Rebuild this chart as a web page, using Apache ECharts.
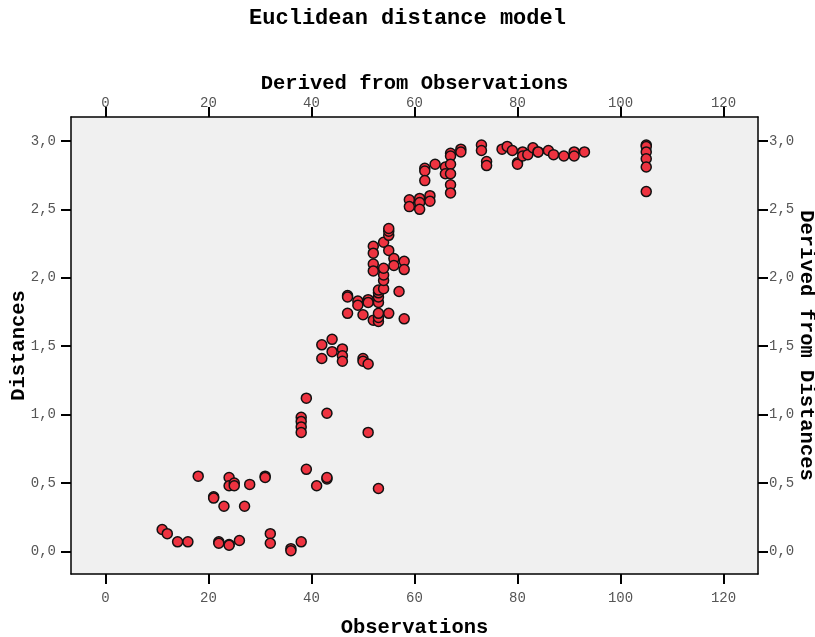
<!DOCTYPE html>
<html>
<head>
<meta charset="utf-8">
<script src="https://cdn.jsdelivr.net/npm/echarts@6/dist/echarts.min.js"></script>
<style>html,body{margin:0;padding:0;background:#fff;}#c{width:815px;height:637px;}</style>
</head>
<body>
<div id="c"></div>
<script>
var titleText = 'Euclidean distance model';
var xTicks = [0, 20, 40, 60, 80, 100, 120];
var yTicks = [0, 0.5, 1.0, 1.5, 2.0, 2.5, 3.0];
var observations = [
  11,12,14,16,18,21,21,22,22,23,24,24,24,24,25,25,26,27,28,31,31,32,32,36,36,38,38,38,38,38,39,39,41,43,43,43,51,53,
  42,44,44,46,46,46,42,50,50,51,
  47,47,49,49,51,51,53,53,53,53,47,50,52,53,53,53,55,58,57,54,54,54,54,52,52,52,52,54,55,55,55,55,56,56,58,58,
  59,59,61,61,61,63,63,62,62,62,64,66,66,67,67,67,67,67,67,69,69,73,73,74,74,77,78,79,80,80,81,81,82,83,84,84,86,87,89,91,91,93,
  105,105,105,105,105,105
];
var distances = [
  0.16,0.13,0.07,0.07,0.55,0.40,0.39,0.07,0.06,0.33,0.54,0.05,0.045,0.48,0.50,0.48,0.08,0.33,0.49,0.55,0.54,0.13,0.06,0.02,0.005,0.07,0.98,0.95,0.91,0.87,1.12,0.60,0.48,1.01,0.53,0.54,0.87,0.46,
  1.51,1.55,1.46,1.48,1.43,1.39,1.41,1.41,1.39,1.37,
  1.87,1.86,1.83,1.80,1.84,1.82,1.82,1.86,1.89,1.91,1.74,1.73,1.69,1.68,1.71,1.74,1.74,1.70,1.90,1.92,1.98,2.02,2.07,2.10,2.05,2.23,2.18,2.26,2.31,2.34,2.36,2.20,2.14,2.09,2.12,2.06,
  2.57,2.52,2.58,2.55,2.50,2.60,2.56,2.80,2.78,2.71,2.83,2.81,2.76,2.91,2.89,2.83,2.76,2.68,2.62,2.94,2.92,2.97,2.93,2.85,2.82,2.94,2.96,2.93,2.84,2.83,2.92,2.89,2.90,2.95,2.92,2.92,2.93,2.90,2.89,2.92,2.89,2.92,
  2.97,2.96,2.92,2.87,2.81,2.63
];

var pts = observations.map(function (x, i) { return [x, distances[i]]; });
var FONT = '"Liberation Mono", "Courier New", monospace';
function yfmt(v) { return v.toFixed(1).replace('.', ','); }

var axisLineStyle = { color: '#000', width: 1.5 };
function xAxisDef(pos, name, gap, margin) {
  return {
    type: 'value', position: pos, min: -6.7, max: 126.7,
    name: name, nameLocation: 'middle', nameGap: gap, nameMoveOverlap: false,
    nameTextStyle: { fontFamily: FONT, fontWeight: 'bold', fontSize: 20.5, color: '#000' },
    axisLine: { show: true, onZero: false, lineStyle: axisLineStyle },
    axisTick: { show: true, length: 10, customValues: xTicks, lineStyle: { color: '#000', width: 2 } },
    axisLabel: { customValues: xTicks, margin: margin, fontFamily: FONT, fontSize: 14, color: '#555' },
    splitLine: { show: false }
  };
}
function yAxisDef(pos, name, gap, margin, rot) {
  return {
    type: 'value', position: pos, min: -0.165, max: 3.175,
    name: name, nameLocation: 'middle', nameGap: gap, nameRotate: rot, nameMoveOverlap: false,
    nameTextStyle: { fontFamily: FONT, fontWeight: 'bold', fontSize: 20.5, color: '#000' },
    axisLine: { show: true, onZero: false, lineStyle: axisLineStyle },
    axisTick: { show: true, length: 10, customValues: yTicks, lineStyle: { color: '#000', width: 2 } },
    axisLabel: { customValues: yTicks, margin: margin, fontFamily: FONT, fontSize: 14, color: '#555', formatter: yfmt },
    splitLine: { show: false }
  };
}

var chart = echarts.init(document.getElementById('c'), null, { renderer: 'canvas' });
chart.setOption({
  animation: false,
  backgroundColor: '#ffffff',
  title: {
    text: titleText, left: 'center', top: 2,
    textStyle: { fontFamily: FONT, fontWeight: 'bold', fontSize: 22, color: '#000' }
  },
  grid: {
    left: 71, right: 57, top: 117, bottom: 63,
    containLabel: false, outerBoundsMode: 'none',
    show: true, backgroundColor: '#f0f0f0', borderColor: '#000', borderWidth: 0
  },
  xAxis: [
    xAxisDef('bottom', 'Observations', 43, 17),
    xAxisDef('top', 'Derived from Observations', 23, 7)
  ],
  yAxis: [
    yAxisDef('left', 'Distances', 42, 15, 90),
    yAxisDef('right', 'Derived from Distances', 38, 11, -90)
  ],
  series: [{
    type: 'scatter',
    xAxisIndex: 0, yAxisIndex: 0,
    data: pts,
    symbol: 'circle',
    symbolSize: 10,
    itemStyle: { color: '#ee3340', borderColor: '#111', borderWidth: 1.5, opacity: 1 }
  }]
});
</script>
</body>
</html>
